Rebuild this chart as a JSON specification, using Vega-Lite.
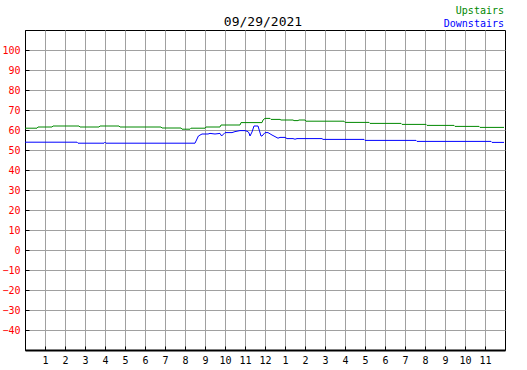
{
  "$schema": "https://vega.github.io/schema/vega-lite/v6.json",
  "width": 480,
  "height": 320,
  "autosize": "none",
  "padding": {"left": 25, "top": 30, "right": 22, "bottom": 20},
  "background": "white",
  "title": {
    "text": "09/29/2021",
    "font": "DejaVu Sans Mono",
    "fontSize": 13,
    "fontWeight": "normal",
    "color": "black",
    "anchor": "middle",
    "baseline": "alphabetic",
    "offset": -33,
    "dx": -2
  },
  "config": {
    "view": {"stroke": "black", "strokeWidth": 1},
    "axis": {
      "gridColor": "#a0a0a0",
      "gridOpacity": 1,
      "gridWidth": 1,
      "tickColor": "black",
      "tickWidth": 1,
      "tickSize": -4,
      "labelPadding": 9,
      "domainColor": "black",
      "labelFont": "DejaVu Sans Mono",
      "labelFontSize": 10,
      "labelColor": "black",
      "title": null
    }
  },
  "data": {
    "values": [
      {"h": 0, "t": 60.9, "s": "Upstairs"},
      {"h": 0.6, "t": 60.9, "s": "Upstairs"},
      {"h": 0.65, "t": 61.5, "s": "Upstairs"},
      {"h": 1.35, "t": 61.5, "s": "Upstairs"},
      {"h": 1.4, "t": 62, "s": "Upstairs"},
      {"h": 2.7, "t": 62, "s": "Upstairs"},
      {"h": 2.75, "t": 61.5, "s": "Upstairs"},
      {"h": 3.7, "t": 61.5, "s": "Upstairs"},
      {"h": 3.75, "t": 62, "s": "Upstairs"},
      {"h": 4.7, "t": 62, "s": "Upstairs"},
      {"h": 4.75, "t": 61.5, "s": "Upstairs"},
      {"h": 6.8, "t": 61.5, "s": "Upstairs"},
      {"h": 6.85, "t": 61, "s": "Upstairs"},
      {"h": 7.8, "t": 61, "s": "Upstairs"},
      {"h": 7.85, "t": 60.4, "s": "Upstairs"},
      {"h": 8.25, "t": 60.4, "s": "Upstairs"},
      {"h": 8.3, "t": 60.9, "s": "Upstairs"},
      {"h": 9.0, "t": 60.9, "s": "Upstairs"},
      {"h": 9.05, "t": 61.5, "s": "Upstairs"},
      {"h": 9.75, "t": 61.5, "s": "Upstairs"},
      {"h": 9.8, "t": 62.5, "s": "Upstairs"},
      {"h": 10.75, "t": 62.5, "s": "Upstairs"},
      {"h": 10.8, "t": 63.7, "s": "Upstairs"},
      {"h": 11.85, "t": 63.7, "s": "Upstairs"},
      {"h": 11.9, "t": 65, "s": "Upstairs"},
      {"h": 12.0, "t": 65.8, "s": "Upstairs"},
      {"h": 12.25, "t": 65.8, "s": "Upstairs"},
      {"h": 12.3, "t": 65.3, "s": "Upstairs"},
      {"h": 12.75, "t": 65.3, "s": "Upstairs"},
      {"h": 12.8, "t": 65, "s": "Upstairs"},
      {"h": 13.4, "t": 65, "s": "Upstairs"},
      {"h": 13.45, "t": 64.7, "s": "Upstairs"},
      {"h": 13.65, "t": 64.7, "s": "Upstairs"},
      {"h": 13.7, "t": 65, "s": "Upstairs"},
      {"h": 14.0, "t": 65, "s": "Upstairs"},
      {"h": 14.05, "t": 64.4, "s": "Upstairs"},
      {"h": 15.95, "t": 64.4, "s": "Upstairs"},
      {"h": 16.0, "t": 63.8, "s": "Upstairs"},
      {"h": 17.2, "t": 63.8, "s": "Upstairs"},
      {"h": 17.25, "t": 63.3, "s": "Upstairs"},
      {"h": 18.8, "t": 63.3, "s": "Upstairs"},
      {"h": 18.85, "t": 62.8, "s": "Upstairs"},
      {"h": 20.05, "t": 62.8, "s": "Upstairs"},
      {"h": 20.1, "t": 62.3, "s": "Upstairs"},
      {"h": 21.45, "t": 62.3, "s": "Upstairs"},
      {"h": 21.5, "t": 61.8, "s": "Upstairs"},
      {"h": 22.7, "t": 61.8, "s": "Upstairs"},
      {"h": 22.75, "t": 61.3, "s": "Upstairs"},
      {"h": 23.95, "t": 61.3, "s": "Upstairs"},
      {"h": 0, "t": 53.9, "s": "Downstairs"},
      {"h": 2.6, "t": 53.9, "s": "Downstairs"},
      {"h": 2.65, "t": 53.4, "s": "Downstairs"},
      {"h": 3.95, "t": 53.4, "s": "Downstairs"},
      {"h": 4.0, "t": 53.9, "s": "Downstairs"},
      {"h": 4.05, "t": 53.4, "s": "Downstairs"},
      {"h": 8.5, "t": 53.4, "s": "Downstairs"},
      {"h": 8.67, "t": 57, "s": "Downstairs"},
      {"h": 8.85, "t": 58, "s": "Downstairs"},
      {"h": 9.15, "t": 58, "s": "Downstairs"},
      {"h": 9.25, "t": 58.3, "s": "Downstairs"},
      {"h": 9.5, "t": 58.0, "s": "Downstairs"},
      {"h": 9.75, "t": 58.3, "s": "Downstairs"},
      {"h": 9.83, "t": 57, "s": "Downstairs"},
      {"h": 10.0, "t": 58.7, "s": "Downstairs"},
      {"h": 10.35, "t": 58.7, "s": "Downstairs"},
      {"h": 10.5, "t": 59.2, "s": "Downstairs"},
      {"h": 10.75, "t": 59.7, "s": "Downstairs"},
      {"h": 11.0, "t": 59.7, "s": "Downstairs"},
      {"h": 11.15, "t": 59.2, "s": "Downstairs"},
      {"h": 11.2, "t": 58.5, "s": "Downstairs"},
      {"h": 11.25, "t": 57, "s": "Downstairs"},
      {"h": 11.35, "t": 59, "s": "Downstairs"},
      {"h": 11.45, "t": 62, "s": "Downstairs"},
      {"h": 11.65, "t": 62, "s": "Downstairs"},
      {"h": 11.8, "t": 57, "s": "Downstairs"},
      {"h": 11.85, "t": 57, "s": "Downstairs"},
      {"h": 12.0, "t": 58.7, "s": "Downstairs"},
      {"h": 12.15, "t": 58.7, "s": "Downstairs"},
      {"h": 12.35, "t": 57.5, "s": "Downstairs"},
      {"h": 12.5, "t": 56.7, "s": "Downstairs"},
      {"h": 12.65, "t": 55.9, "s": "Downstairs"},
      {"h": 12.75, "t": 56.3, "s": "Downstairs"},
      {"h": 13.0, "t": 56.3, "s": "Downstairs"},
      {"h": 13.1, "t": 55.7, "s": "Downstairs"},
      {"h": 13.4, "t": 55.7, "s": "Downstairs"},
      {"h": 13.5, "t": 55.4, "s": "Downstairs"},
      {"h": 13.6, "t": 55.7, "s": "Downstairs"},
      {"h": 14.85, "t": 55.7, "s": "Downstairs"},
      {"h": 14.9, "t": 55.3, "s": "Downstairs"},
      {"h": 16.95, "t": 55.3, "s": "Downstairs"},
      {"h": 17.0, "t": 54.8, "s": "Downstairs"},
      {"h": 19.55, "t": 54.8, "s": "Downstairs"},
      {"h": 19.6, "t": 54.3, "s": "Downstairs"},
      {"h": 23.3, "t": 54.3, "s": "Downstairs"},
      {"h": 23.35, "t": 53.8, "s": "Downstairs"},
      {"h": 23.95, "t": 53.8, "s": "Downstairs"}
    ]
  },
  "mark": {"type": "line", "strokeWidth": 1, "interpolate": "linear"},
  "encoding": {
    "x": {
      "field": "h",
      "type": "quantitative",
      "scale": {"domain": [0, 24], "nice": false, "zero": false},
      "axis": {
        "values": [1,2,3,4,5,6,7,8,9,10,11,12,13,14,15,16,17,18,19,20,21,22,23],
        "labelExpr": "datum.value % 12 == 0 ? '12' : '' + (datum.value % 12)",
        "domainWidth": 2,
        "labelBaseline": "top",
        "labelFlush": false,
        "labelOverlap": false
      }
    },
    "y": {
      "field": "t",
      "type": "quantitative",
      "scale": {"domain": [-50, 110], "nice": false, "zero": false},
      "axis": {
        "values": [-40,-30,-20,-10,0,10,20,30,40,50,60,70,80,90,100],
        "labelColor": "#ff0000",
        "domainWidth": 1,
        "labelFlush": false,
        "labelOverlap": false
      }
    },
    "color": {
      "field": "s",
      "type": "nominal",
      "scale": {"domain": ["Upstairs", "Downstairs"], "range": ["#008800", "#0000ff"]},
      "legend": {
        "title": null,
        "orient": "none",
        "legendX": 469,
        "legendY": -24,
        "direction": "vertical",
        "symbolSize": 0,
        "symbolStrokeWidth": 0,
        "symbolOpacity": 0,
        "labelFont": "DejaVu Sans Mono",
        "labelFontSize": 10,
        "labelFontWeight": "normal",
        "labelAlign": "right",
        "labelOffset": 0,
        "rowPadding": 3,
        "padding": 0,
        "encode": {
          "labels": {"update": {"fill": {"scale": "color", "field": "value"}}}
        }
      }
    },
    "detail": {"field": "s"}
  }
}
